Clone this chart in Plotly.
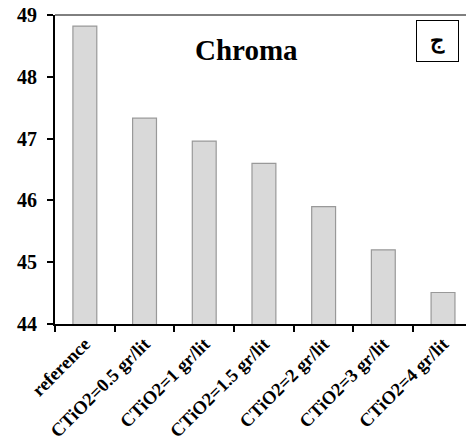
import plotly.graph_objects as go

categories = ["reference", "CTiO2=0.5 gr/lit", "CTiO2=1 gr/lit", "CTiO2=1.5 gr/lit",
              "CTiO2=2 gr/lit", "CTiO2=3 gr/lit", "CTiO2=4 gr/lit"]
chroma = [48.82, 47.33, 46.96, 46.60, 45.90, 45.20, 44.51]
y_ticks = [44, 45, 46, 47, 48, 49]

FONT = "Liberation Serif"

fig = go.Figure()
fig.add_trace(go.Bar(
    x=categories, y=chroma,
    marker=dict(color="#d9d9d9", line=dict(color="#999999", width=1.2)),
    width=0.4,
))

fig.update_layout(
    width=466, height=440,
    margin=dict(l=55, r=0, t=15, b=116),
    plot_bgcolor="white", paper_bgcolor="white",
    showlegend=False,
    xaxis=dict(
        type="category", range=[-0.5, 6.385],
        tickmode="array", tickvals=categories,
        ticktext=["<b>" + c + "</b>" for c in categories],
        showline=True, linecolor="black", linewidth=2,
        ticks="outside", tickson="boundaries", ticklen=6, tickwidth=2, tickcolor="black",
        tickangle=-45, automargin=False,
        tickfont=dict(family=FONT, size=18.5, color="black"),
        showgrid=False, zeroline=False,
    ),
    yaxis=dict(
        range=[44, 49], tickmode="array", tickvals=y_ticks,
        ticktext=["<b>%d</b>" % v for v in y_ticks],
        showline=True, linecolor="black", linewidth=2,
        ticks="outside", ticklen=6, tickwidth=2, tickcolor="black",
        ticklabelstandoff=6, automargin=False,
        tickfont=dict(family=FONT, size=20, color="black"),
        showgrid=False, zeroline=False,
    ),
    shapes=[dict(type="line", xref="paper", yref="paper", x0=0, x1=1, y0=1, y1=1,
                 line=dict(color="black", width=1))],
    annotations=[
        dict(text="<b>Chroma</b>", xref="paper", yref="paper", x=0.465, y=0.888,
             xanchor="center", yanchor="middle",
             showarrow=False, font=dict(family=FONT, size=29, color="black")),
        dict(text="<b>ج</b>", xref="paper", yref="paper", x=0.9307, y=0.916,
             xanchor="center", yanchor="middle",
             showarrow=False, width=39, height=38, bordercolor="black", borderwidth=1,
             font=dict(family=FONT, size=22, color="black")),
    ],
)

fig.write_html("out.html")
